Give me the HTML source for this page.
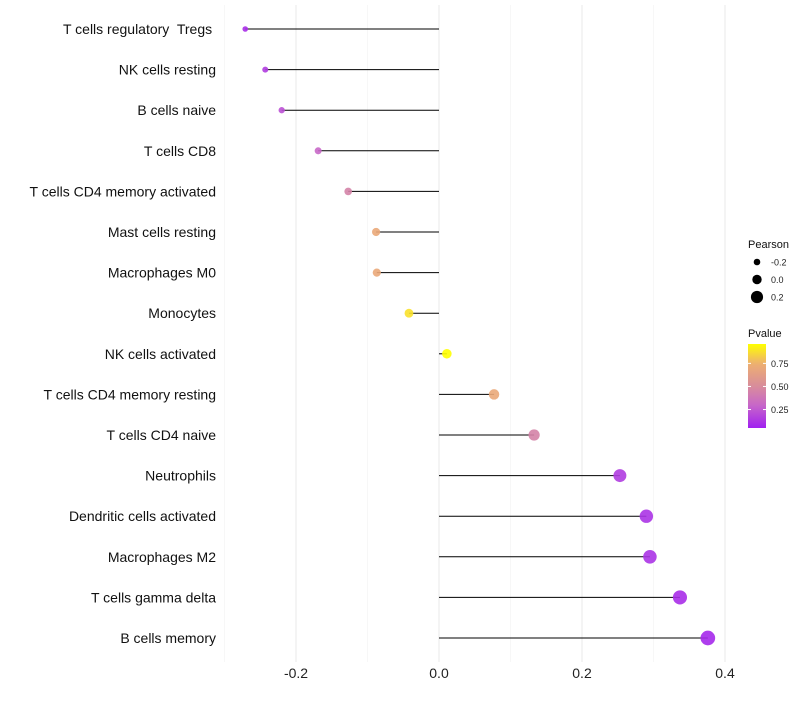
<!DOCTYPE html>
<html><head><meta charset="utf-8"><style>
body{margin:0;background:#fff;font-family:"Liberation Sans",sans-serif}
text{white-space:pre}
</style></head><body>
<svg id="c" width="800" height="700" xmlns="http://www.w3.org/2000/svg"></svg>
<script>
const categories=["T cells regulatory  Tregs ","NK cells resting","B cells naive","T cells CD8","T cells CD4 memory activated","Mast cells resting","Macrophages M0","Monocytes","NK cells activated","T cells CD4 memory resting","T cells CD4 naive","Neutrophils","Dendritic cells activated","Macrophages M2","T cells gamma delta","B cells memory"];
const pearson=[-0.271,-0.243,-0.22,-0.169,-0.127,-0.088,-0.087,-0.042,0.011,0.077,0.133,0.253,0.29,0.295,0.337,0.376];
const pvalue=[0.1,0.15,0.22,0.3,0.45,0.7,0.7,0.88,0.96,0.7,0.45,0.15,0.12,0.12,0.1,0.08];
const xTicks=[-0.2,0,0.2,0.4];
const xTickLabels=["-0.2","0.0","0.2","0.4"];
const minorTicks=[-0.3,-0.1,0.1,0.3];
const sizeLegend=[-0.2,0,0.2];
const colorLegendTicks=[0.25,0.5,0.75];
const NS="http://www.w3.org/2000/svg";
const svg=document.getElementById('c');
function x(v){return 439+v*715;}
function y(i){return 29+i*40.6;}
function r(v){return Math.max(1.8,4.7+7*v);}
const stops=[[0.05,[160,32,240]],[0.3,[200,104,200]],[0.5,[216,140,156]],[0.75,[238,176,112]],[0.96,[255,255,0]]];
function col(p){if(p<=stops[0][0])return rgb(stops[0][1]);for(let k=1;k<stops.length;k++){if(p<=stops[k][0]){const a=stops[k-1],b=stops[k],t=(p-a[0])/(b[0]-a[0]);return rgb(a[1].map((c,j)=>c+(b[1][j]-c)*t));}}return rgb(stops[stops.length-1][1]);}
function rgb(a){return `rgb(${a.map(Math.round).join(',')})`;}
function el(t,at,txt){const e=document.createElementNS(NS,t);for(const k in at)e.setAttribute(k,at[k]);if(txt!==undefined)e.textContent=txt;svg.appendChild(e);return e;}
minorTicks.forEach(v=>{const g=el('line',{x1:x(v),x2:x(v),y1:5,y2:662,stroke:'#f2f2f2','stroke-width':0.6});

});
xTicks.forEach((v,i)=>{const g=el('line',{x1:x(v),x2:x(v),y1:5,y2:662,stroke:'#ebebeb','stroke-width':1.1});


const t=el('text',{x:x(v),y:678,'text-anchor':'middle','font-size':14,fill:'#222'},xTickLabels[i]);

});
categories.forEach((c,i)=>{
const t=el('text',{x:216,y:y(i)+5,'text-anchor':'end','font-size':14,fill:'#111'},c);


const l=el('line',{x1:x(0),x2:x(pearson[i]),y1:y(i),y2:y(i),stroke:'#000','stroke-width':1});


const d=el('circle',{cx:x(pearson[i]),cy:y(i),r:r(pearson[i]),fill:col(pvalue[i]),'fill-opacity':0.9});


});
el('text',{x:748,y:248,'font-size':11,fill:'#111'},'Pearson');
sizeLegend.forEach((v,i)=>{const cy=262+i*17.5;
const d=el('circle',{cx:757,cy:cy,r:r(v),fill:'#000'});


const t=el('text',{x:771,y:cy+3.5,'font-size':9,fill:'#222'},v===0?'0.0':v.toFixed(1));

});
el('text',{x:748,y:337,'font-size':11,fill:'#111'},'Pvalue');
const defs=el('defs',{});const lg=document.createElementNS(NS,'linearGradient');lg.setAttribute('id','g');lg.setAttribute('x1','0');lg.setAttribute('y1','1');lg.setAttribute('x2','0');lg.setAttribute('y2','0');defs.appendChild(lg);
for(let k=0;k<=20;k++){const p=0.05+k*(0.96-0.05)/20;const s=document.createElementNS(NS,'stop');s.setAttribute('offset',k/20);s.setAttribute('stop-color',col(p));lg.appendChild(s);}
const bar=el('rect',{x:748,y:344,width:18,height:84,fill:'url(#g)'});


function py(p){return 428-(p-0.05)/(0.96-0.05)*84;}
colorLegendTicks.forEach(v=>{el('line',{x1:748,x2:751,y1:py(v),y2:py(v),stroke:'#fff'});el('line',{x1:763,x2:766,y1:py(v),y2:py(v),stroke:'#fff'});
const t=el('text',{x:771,y:py(v)+3.5,'font-size':9,fill:'#222'},v.toFixed(2));

});
</script>
</body></html>
